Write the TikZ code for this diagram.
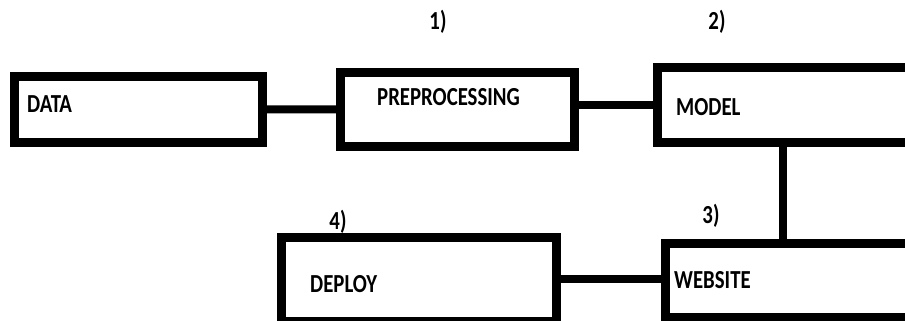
\documentclass[tikz,border=0pt]{standalone}
\usepackage{fontspec}
\setmainfont{Carlito}
\newfontfamily\lblfont[FakeStretch=0.8]{Carlito}
\begin{document}
\begin{tikzpicture}[x=1pt,y=-1pt,
  stage/.style={draw=black,line width=9pt,rectangle,inner sep=0pt,outer sep=0pt,anchor=north west},
  link/.style={draw=black,line width=8pt},
  lbl/.style={inner sep=0pt,anchor=base west,font=\lblfont\bfseries\fontsize{26}{26}\selectfont},
  num/.style={inner sep=0pt,anchor=center,font=\lblfont\bfseries\fontsize{26}{26}\selectfont}]
\useasboundingbox (0,0) rectangle (905,321);
\clip (0,0) rectangle (905,321);

% stage boxes
\node[stage,minimum width=248pt,minimum height=65.5pt] (data) at (14.5,76.5) {};
\node[stage,minimum width=233.5pt,minimum height=73pt] (pre) at (340.5,73) {};
\node[stage,minimum width=260pt,minimum height=74pt] (model) at (657.5,68) {};
\node[stage,minimum width=260pt,minimum height=74.5pt] (web) at (665,243) {};
\node[stage,minimum width=275pt,minimum height=84.5pt] (dep) at (281.5,237) {};

% box captions
\node[lbl] (tdata) at (27,112) {DATA};
\node[lbl] (tpre) at (377,106) {PREPROCESSING};
\node[lbl] (tmodel) at (676,115) {MODEL};
\node[lbl] (tweb) at (674,288) {WEBSITE};
\node[lbl] (tdep) at (310,292) {DEPLOY};

% step numbers
\node[num] (n1) at (438,22) {1)};
\node[num] (n2) at (717,22) {2)};
\node[num] (n3) at (711,216) {3)};
\node[num] (n4) at (338,222) {4)};

% connectors
\draw[link] (data.east) -- (pre.west);
\draw[link] (pre.east |- model.west) -- (model.west);
\draw[link] ([xshift=125.5pt]model.south west) -- ([xshift=125.5pt]model.south west |- web.north);
\draw[link] (dep.east) -- (dep.east -| web.west);
\end{tikzpicture}
\end{document}
